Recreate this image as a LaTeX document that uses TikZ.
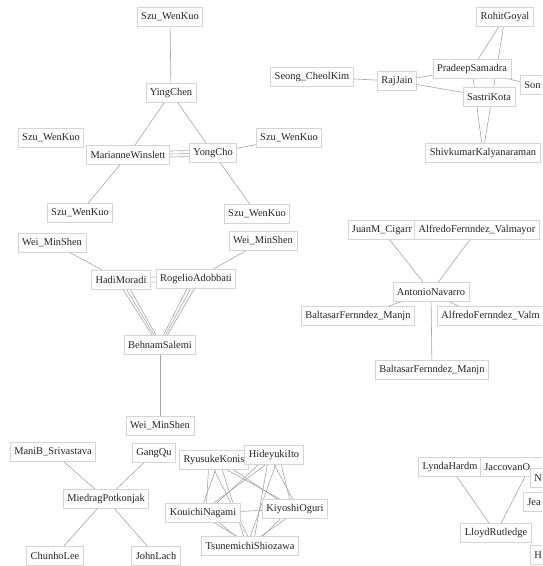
\documentclass[tikz,border=0pt]{standalone}
\usepackage{fontspec}
\setmainfont{Liberation Serif}
\usetikzlibrary{backgrounds}
\definecolor{EdgeGray}{RGB}{165,165,165}
\definecolor{BoxLine}{RGB}{212,212,212}
\definecolor{NameInk}{RGB}{35,35,35}
\tikzset{
  author/.style={draw=BoxLine,fill=white,line width=0.8pt,inner xsep=4pt,inner ysep=0pt,
    minimum height=18.5pt,font=\fontsize{10.4}{12}\selectfont,text=NameInk},
  cutauthor/.style={author,anchor=west,align=left,text width=#1},
  cutauthor/.default=60pt,
  link/.style={draw=EdgeGray,line width=0.6pt}
}

\begin{document}
\begin{tikzpicture}[x=1pt,y={(0pt,-1pt)}]
  \useasboundingbox (0,0) rectangle (542,566);
  \clip (0,0) rectangle (542,566);

  % Chen / Cho group
  \node[author] (szuA) at (170,17) {Szu\_WenKuo};
  \node[author] (yingchen) at (171,93) {YingChen};
  \node[author] (szuB) at (51,138) {Szu\_WenKuo};
  \node[author] (marianne) at (128,155) {MarianneWinslett};
  \node[author] (yongcho) at (213,153) {YongCho};
  \node[author] (szuC) at (289,138) {Szu\_WenKuo};
  \node[author] (szuD) at (80,213) {Szu\_WenKuo};
  \node[author] (szuE) at (257,214) {Szu\_WenKuo};

  % Salemi group
  \node[author] (weiA) at (52,243) {Wei\_MinShen};
  \node[author] (weiB) at (263,241) {Wei\_MinShen};
  \node[author] (hadi) at (121,280) {HadiMoradi};
  \node[author] (rogelio) at (196,279) {RogelioAdobbati};
  \node[author] (behnam) at (160,345) {BehnamSalemi};
  \node[author] (weiC) at (160,426) {Wei\_MinShen};

  % Potkonjak group
  \node[author] (mani) at (53,452) {ManiB\_Srivastava};
  \node[author] (gangqu) at (154,453) {GangQu};
  \node[author] (miedrag) at (106,499) {MiedragPotkonjak};
  \node[author] (chunho) at (55,556) {ChunhoLee};
  \node[author] (johnlach) at (156,556) {JohnLach};

  % Shiozawa group
  \node[author] (ryusuke) at (214,460) {RyusukeKonis};
  \node[author] (hideyuki) at (274,455) {HideyukiIto};
  \node[author] (kouichi) at (203,513) {KouichiNagami};
  \node[author] (kiyoshi) at (295,509) {KiyoshiOguri};
  \node[author] (tsunemichi) at (250,546) {TsunemichiShiozawa};

  % Jain group
  \node[author] (rohit) at (505,17) {RohitGoyal};
  \node[author] (seong) at (312,77) {Seong\_CheolKim};
  \node[author] (rajjain) at (397,81) {RajJain};
  \node[author] (pradeep) at (472,69) {PradeepSamadra};
  \node[cutauthor] (son) at (520,85) {Son};
  \node[author] (sastri) at (489,97) {SastriKota};
  \node[author] (shivkumar) at (483,153) {ShivkumarKalyanaraman};

  % Navarro group
  \node[author] (juanm) at (382,230) {JuanM\_Cigarr};
  \node[author] (alfredoA) at (477,230) {AlfredoFernndez\_Valmayor};
  \node[author] (antonio) at (431,292) {AntonioNavarro};
  \node[author] (baltasarA) at (358,316) {BaltasarFernndez\_Manjn};
  \node[cutauthor=130pt] (alfredoB) at (437,316) {AlfredoFernndez\_Valm};
  \node[author] (baltasarB) at (432,370) {BaltasarFernndez\_Manjn};

  % Rutledge group
  \node[author] (lynda) at (450,467) {LyndaHardm};
  \node[cutauthor] (jaccovan) at (480,467) {JaccovanO};
  \node[cutauthor] (nbox) at (530,478) {N};
  \node[cutauthor] (jea) at (523,502) {Jea};
  \node[author] (lloyd) at (496,533) {LloydRutledge};
  \node[cutauthor] (hbox) at (530,555) {H};

  \begin{scope}[on background layer]
    \draw[link] (szuA) -- (yingchen);
    \draw[link] (yingchen) -- (marianne);
    \draw[link] (yingchen) -- (yongcho);
    \foreach \s in {-3,0,3}
      \draw[link] ([yshift=\s pt]marianne.center) -- ([yshift=\s pt]yongcho.center);
    \draw[link] (yongcho) -- (szuC);
    \draw[link] (marianne) -- (szuD);
    \draw[link] (yongcho) -- (szuE);

    \draw[link] (weiA) -- (hadi);
    \draw[link] (weiB) -- (rogelio);
    \foreach \s in {-2.5,2.5}
      \draw[link] ([yshift=\s pt]hadi.center) -- ([yshift=\s pt]rogelio.center);
    \foreach \s in {-4,0,4} {
      \draw[link] ([xshift=\s pt]hadi.center) -- ([xshift=0.4*\s pt]behnam.center);
      \draw[link] ([xshift=\s pt]rogelio.center) -- ([xshift=0.4*\s pt]behnam.center);
    }
    \draw[link] (behnam) -- (weiC);

    \draw[link] (mani) -- (miedrag);
    \draw[link] (gangqu) -- (miedrag);
    \draw[link] (miedrag) -- (chunho);
    \draw[link] (miedrag) -- (johnlach);

    \foreach \a/\b in {ryusuke/kouichi,ryusuke/tsunemichi,ryusuke/kiyoshi,
        hideyuki/kouichi,hideyuki/tsunemichi,hideyuki/kiyoshi,
        kouichi/tsunemichi,kiyoshi/tsunemichi}
      \foreach \s in {-5,5}
        \draw[link] ([xshift=\s pt]\a.center) -- ([xshift=-0.6*\s pt]\b.center);
    \draw[link] (kouichi) -- (kiyoshi);

    \draw[link] (seong) -- (rajjain);
    \draw[link] (rajjain) -- (pradeep);
    \draw[link] (rajjain) -- (sastri);
    \draw[link] (rohit) -- (pradeep);
    \draw[link] (rohit) -- (shivkumar);
    \draw[link] (pradeep) -- (shivkumar);
    \draw[link] (pradeep) -- ([xshift=12pt]son.west);

    \draw[link] (juanm) -- (antonio);
    \draw[link] (alfredoA) -- (antonio);
    \draw[link] (antonio) -- (baltasarA);
    \draw[link] (antonio) -- ([xshift=40pt]alfredoB.west);
    \draw[link] (antonio) -- (baltasarB);

    \draw[link] (lynda) -- (lloyd);
    \draw[link] ([xshift=50pt]jaccovan.west) -- (lloyd);
  \end{scope}
\end{tikzpicture}
\end{document}
